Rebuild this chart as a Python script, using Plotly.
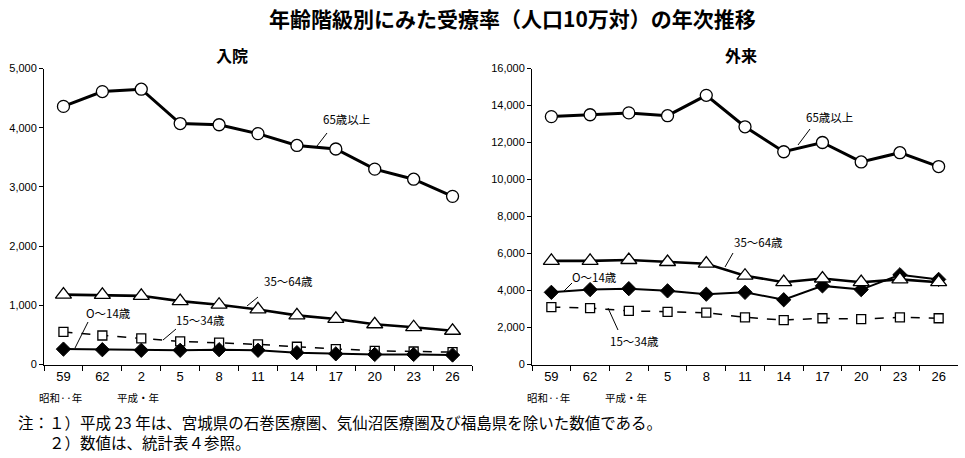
import plotly.graph_objects as go

# ---------------- data ----------------
years = ["59", "62", "2", "5", "8", "11", "14", "17", "20", "23", "26"]

inpatient_65plus = [4360, 4610, 4650, 4070, 4050, 3900, 3700, 3640, 3300, 3130, 2840]
inpatient_35_64 = [1180, 1175, 1160, 1070, 1010, 930, 830, 770, 680, 630, 570]
inpatient_15_34 = [550, 490, 440, 390, 370, 340, 300, 260, 230, 220, 210]
inpatient_0_14 = [260, 250, 240, 240, 250, 240, 200, 180, 170, 170, 160]

outpatient_65plus = [13400, 13500, 13600, 13450, 14550, 12850, 11500, 12000, 10950, 11450, 10700]
outpatient_35_64 = [5600, 5600, 5650, 5540, 5450, 4800, 4450, 4650, 4450, 4600, 4450]
outpatient_15_34 = [3100, 3050, 2900, 2850, 2800, 2550, 2400, 2500, 2450, 2550, 2500]
outpatient_0_14 = [3900, 4050, 4100, 3980, 3800, 3900, 3500, 4250, 4050, 4850, 4600]

series_names = ["65歳以上", "35～64歳", "15～34歳", "O～14歳"]

W, H = 965, 458
def px(x):
    return x / W
def py(y):
    return 1 - y / H

JP = "Noto Sans CJK JP"
LAT = "Liberation Sans, Arial"

fig = go.Figure()

styles = [
    dict(line=dict(color="black", width=3), marker=dict(symbol="circle", size=12, color="white", line=dict(color="black", width=1.3))),
    dict(line=dict(color="black", width=2.6), marker=dict(symbol="triangle-up", size=14, color="white", line=dict(color="black", width=1.3))),
    dict(line=dict(color="black", width=1.5, dash="dash"), marker=dict(symbol="square", size=9, color="white", line=dict(color="black", width=1.3))),
    dict(line=dict(color="black", width=2), marker=dict(symbol="diamond", size=11, color="black", line=dict(color="black", width=1))),
]

left = [inpatient_65plus, inpatient_35_64, inpatient_15_34, inpatient_0_14]
right = [outpatient_65plus, outpatient_35_64, outpatient_15_34, outpatient_0_14]

# draw order: back to front
for idx in [2, 3, 1, 0]:
    fig.add_trace(go.Scatter(x=years, y=left[idx], mode="lines+markers", name=series_names[idx],
                             xaxis="x", yaxis="y", showlegend=False, cliponaxis=False, **styles[idx]))
for idx in [2, 3, 1, 0]:
    fig.add_trace(go.Scatter(x=years, y=right[idx], mode="lines+markers", name=series_names[idx],
                             xaxis="x2", yaxis="y2", showlegend=False, cliponaxis=False, **styles[idx]))

ydom = [py(364.5), py(68.5)]
xcommon = dict(type="category", categoryorder="array", categoryarray=years, range=[-0.5, 10.5],
               showline=True, linecolor="black", linewidth=1, ticks="outside", ticklen=5,
               tickcolor="black", tickson="boundaries", showgrid=False, zeroline=False, automargin=False,
               tickfont=dict(family=LAT, size=13, color="black"))
ycommon = dict(showline=True, linecolor="black", linewidth=1, ticks="outside", ticklen=4,
               tickcolor="black", showgrid=False, zeroline=False, tickformat=",", automargin=False,
               tickfont=dict(family=LAT, size=11, color="black"))

fig.update_layout(
    width=W, height=H,
    margin=dict(l=0, r=0, t=0, b=0, autoexpand=False),
    paper_bgcolor="white", plot_bgcolor="white",
    xaxis=dict(domain=[px(44), px(472)], anchor="y", **xcommon),
    yaxis=dict(domain=ydom, anchor="x", range=[0, 5000], dtick=1000, **ycommon),
    xaxis2=dict(domain=[px(532), px(958)], anchor="y2", **xcommon),
    yaxis2=dict(domain=ydom, anchor="x2", range=[0, 16000], dtick=2000, **ycommon),
)

ann = []
def text(x, y, s, size=11, family=JP, bold=False, xanchor="center", align="center"):
    ann.append(dict(x=px(x), y=py(y), xref="paper", yref="paper", text=("<b>%s</b>" % s) if bold else s,
                    showarrow=False, xanchor=xanchor, yanchor="middle", align=align,
                    font=dict(family=family, size=size, color="black")))

text(512, 18, "年齢階級別にみた受療率（人口10万対）の年次推移", size=21, bold=True)
text(232, 55, "入院", size=16, bold=True)
text(741, 55, "外来", size=16, bold=True)

# series labels
text(346, 119, series_names[0], size=11.5)
text(288, 281, series_names[1], size=11.5)
text(200, 320, series_names[2], size=11.5)
text(108, 313, series_names[3], size=11.5)
text(829, 117, series_names[0], size=11.5)
text(758, 242, series_names[1], size=11.5)
text(634, 341, series_names[2], size=11.5)
text(594, 277, series_names[3], size=11.5)

# era labels
for x0 in (37, 525):
    text(x0, 397, "昭和··年", size=10.5, xanchor="left")
    text(x0 + 78, 397, "平成・年", size=10.5, xanchor="left")

notes = ["注：１）平成 23 年は、宮城県の石巻医療圏、気仙沼医療圏及び福島県を除いた数値である。",
         "　　２）数値は、統計表４参照。"]
text(16, 432, "<br>".join(notes), size=15.5, xanchor="left", align="left")

shapes = []
def lead(x0, y0, x1, y1):
    shapes.append(dict(type="line", xref="paper", yref="paper", x0=px(x0), y0=py(y0), x1=px(x1), y1=py(y1),
                       line=dict(color="black", width=1)))

lead(327, 133, 317, 146)
lead(258, 297, 247, 306)
lead(176, 329, 163, 340)
lead(88, 322, 75, 348)
lead(810, 129, 798, 145)
lead(733, 253, 725, 267)
lead(572, 283, 563, 292)
lead(608, 308, 618, 330)

fig.update_layout(annotations=ann, shapes=shapes)

fig.write_html("out.html", config={"displayModeBar": False},
               post_script="document.body.style.margin='0';document.body.style.overflow='hidden';")
